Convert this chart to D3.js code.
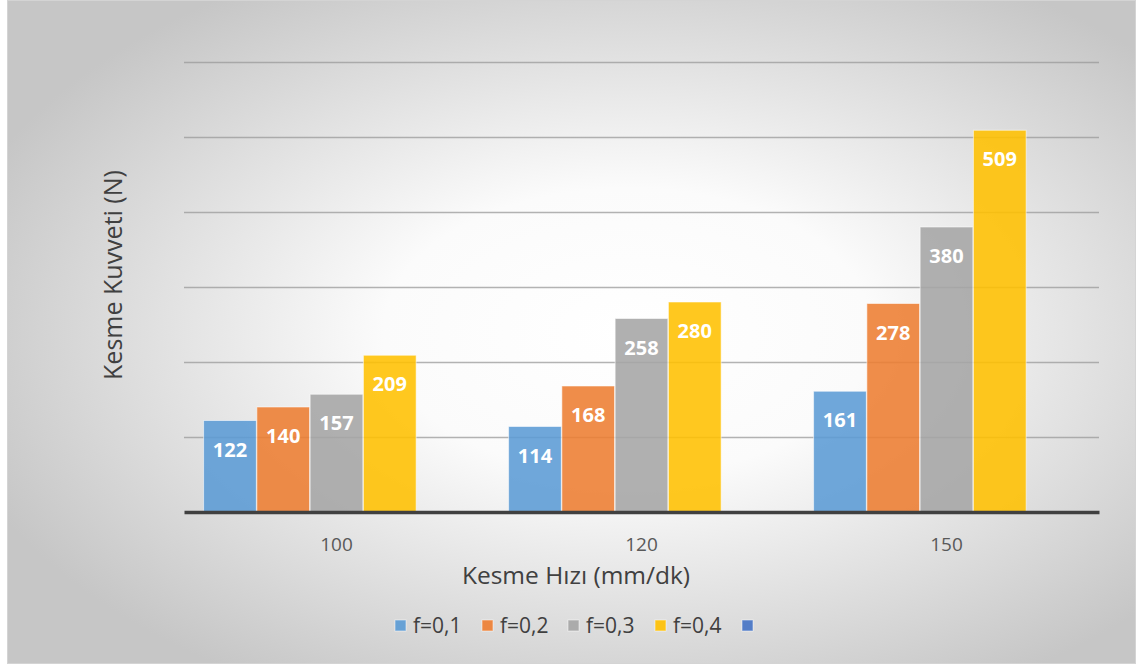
<!DOCTYPE html>
<html>
<head>
<meta charset="utf-8">
<script src="https://cdn.jsdelivr.net/npm/d3@7"></script>
<style>
  html, body { margin: 0; padding: 0; background: #fff; }
  svg { display: block; font-family: "Open Sans", "Noto Sans", sans-serif; }
</style>
</head>
<body>
<svg id="chart" width="1136" height="667"></svg>
<script>
// Cutting speed categories and cutting force per feed rate
const categories = ["100", "120", "150"];
const seriesNames = ["f=0,1", "f=0,2", "f=0,3", "f=0,4", ""];
const f01 = [122, 114, 161];
const f02 = [140, 168, 278];
const f03 = [157, 258, 380];
const f04 = [209, 280, 509];
const f05 = [null, null, null];
const seriesValues = [f01, f02, f03, f04, f05];
const seriesColors = ["#5B9BD5", "#ED7D31", "#A5A5A5", "#FFC000", "#4472C4"];
const yTicks = [0, 100, 200, 300, 400, 500, 600];

const svg = d3.select("#chart");

// Frame with soft radial background
const defs = svg.append("defs");
const grad = defs.append("radialGradient").attr("id", "bg")
  .attr("cx", "55%").attr("cy", "50%").attr("r", "62%");
grad.append("stop").attr("offset", "0%").attr("stop-color", "#ffffff");
grad.append("stop").attr("offset", "35%").attr("stop-color", "#fbfbfb");
grad.append("stop").attr("offset", "100%").attr("stop-color", "#c6c6c6");

svg.append("rect").attr("x", 7.5).attr("y", 0.5).attr("width", 1128).attr("height", 663)
  .attr("fill", "url(#bg)").attr("stroke", "#d4d4d4").attr("stroke-width", 1);

const plot = { left: 184, right: 1099, top: 62, bottom: 512 };

const x0 = d3.scaleBand().domain(categories).range([plot.left, plot.right])
  .paddingInner(0.125).paddingOuter(0.0625);
const x1 = d3.scaleBand().domain(d3.range(seriesNames.length)).range([0, x0.bandwidth()]).padding(0.01);
const y = d3.scaleLinear().domain([0, 600]).range([plot.bottom, plot.top]);

// Gridlines
const yAxis = d3.axisLeft(y).tickValues(yTicks.slice(1)).tickSize(-(plot.right - plot.left)).tickFormat("");
const gy = svg.append("g").attr("transform", `translate(${plot.left},0)`).call(yAxis);
gy.select(".domain").remove();
gy.selectAll(".tick line").attr("stroke", "#9a9a9a").attr("stroke-opacity", 0.75).attr("stroke-width", 1.3);

// Bars
const groups = svg.append("g").selectAll("g").data(categories).join("g")
  .attr("transform", d => `translate(${x0(d)},0)`);

const cells = (c, ci) => seriesValues.map((vals, si) => ({ si, v: vals[ci] })).filter(d => d.v != null);

groups.selectAll("rect").data(cells).join("rect")
  .attr("x", d => x1(d.si))
  .attr("y", d => y(d.v))
  .attr("width", x1.bandwidth())
  .attr("height", d => y(0) - y(d.v))
  .attr("fill", d => seriesColors[d.si])
  .attr("fill-opacity", 0.88)
  .attr("stroke", "#ffffff").attr("stroke-opacity", 0.55).attr("stroke-width", 1);

// Value labels inside bar tops
groups.selectAll("text").data(cells).join("text")
  .attr("x", d => x1(d.si) + x1.bandwidth() / 2)
  .attr("y", d => y(d.v) + 36)
  .attr("text-anchor", "middle")
  .attr("fill", "#ffffff")
  .attr("font-weight", "bold")
  .attr("font-size", 20)
  .text(d => d.v);

// Baseline / category axis
const xAxis = d3.axisBottom(x0).tickSize(0).tickPadding(26);
const gx = svg.append("g").attr("transform", `translate(0,${plot.bottom})`).call(xAxis);
gx.select(".domain").attr("stroke", "#404040").attr("stroke-width", 3.5);
gx.selectAll(".tick text").attr("font-size", 19).attr("fill", "#595959")
  .attr("font-family", "\"Open Sans\", sans-serif");

// Axis titles
svg.append("text").attr("x", 576).attr("y", 584).attr("text-anchor", "middle")
  .attr("font-size", 24.5).attr("fill", "#404040").text("Kesme Hızı (mm/dk)");
svg.append("text").attr("transform", "translate(122,275) rotate(-90)").attr("text-anchor", "middle")
  .attr("font-size", 25).attr("fill", "#404040").text("Kesme Kuvveti (N)");

// Legend
const legendX = [395, 482, 568, 655, 742];
const legend = svg.append("g").selectAll("g").data(seriesNames).join("g")
  .attr("transform", (d, i) => `translate(${legendX[i]},620)`);
legend.append("rect").attr("width", 11).attr("height", 11)
  .attr("fill", (d, i) => seriesColors[i]).attr("fill-opacity", 0.9)
  .attr("stroke", "#fff").attr("stroke-opacity", 0.5);
legend.append("text").attr("x", 18).attr("y", 12.5)
  .attr("font-size", 21).attr("fill", "#404040").text(d => d);
</script>
</body>
</html>
